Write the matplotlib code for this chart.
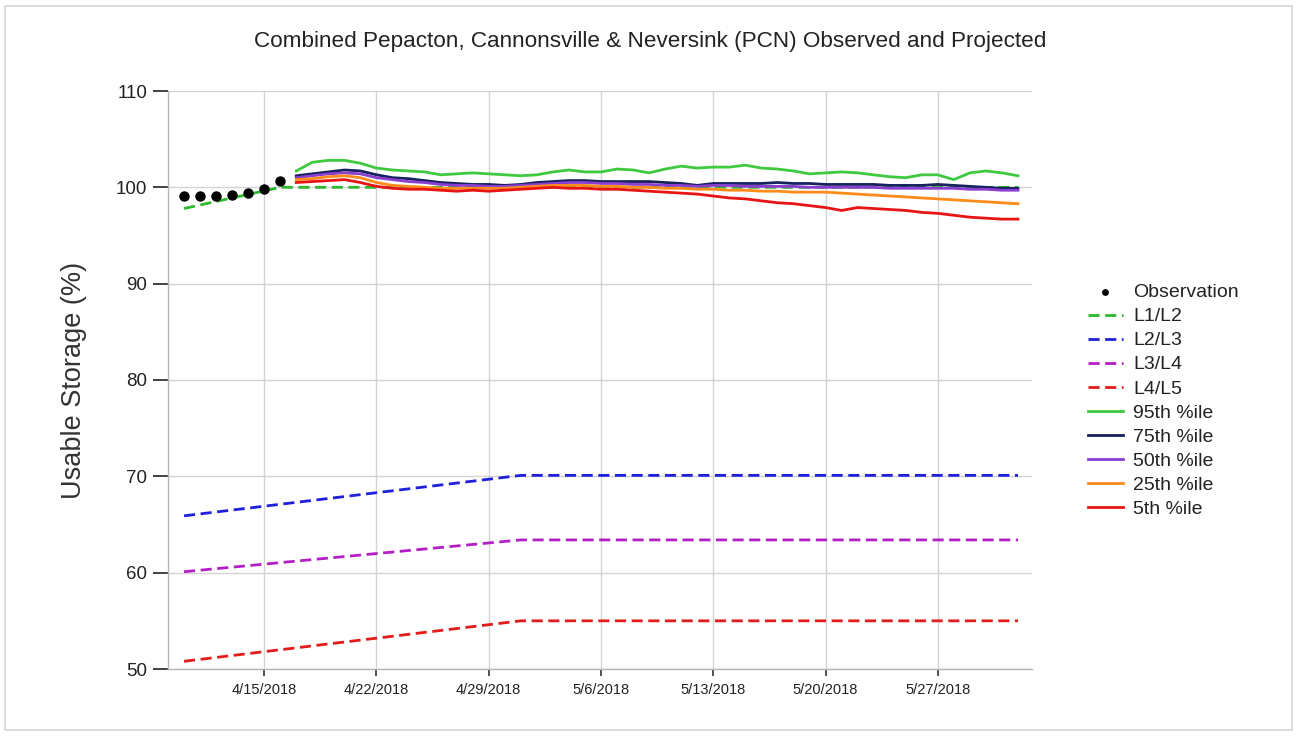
import matplotlib
matplotlib.use("Agg")
import matplotlib.pyplot as plt
import matplotlib.dates as mdates
from matplotlib.patches import Rectangle
import datetime as dt

plt.rcParams['font.family'] = ['Liberation Sans', 'DejaVu Sans']

# ---------------- data ----------------
title = "Combined Pepacton, Cannonsville & Neversink (PCN) Observed and Projected"
ylabel = "Usable Storage (%)"

obs_dates = ["2018-04-10", "2018-04-11", "2018-04-12", "2018-04-13",
             "2018-04-14", "2018-04-15", "2018-04-16"]
obs_values = [99.1, 99.1, 99.1, 99.2, 99.4, 99.8, 100.7]

l12_dates = ["2018-04-10", "2018-04-16", "2018-06-01"]
l12_values = [97.8, 100.0, 100.0]

rule_dates = ["2018-04-10", "2018-05-01", "2018-06-01"]
l23_values = [65.9, 70.1, 70.1]
l34_values = [60.1, 63.4, 63.4]
l45_values = [50.8, 55.0, 55.0]

proj_start = "2018-04-17"
proj_days = 46

p95 = [101.7, 102.6, 102.8, 102.8, 102.5, 102.0, 101.8, 101.7, 101.6, 101.3,
       101.4, 101.5, 101.4, 101.3, 101.2, 101.3, 101.6, 101.8, 101.6, 101.6,
       101.9, 101.8, 101.5, 101.9, 102.2, 102.0, 102.1, 102.1, 102.3, 102.0,
       101.9, 101.7, 101.4, 101.5, 101.6, 101.5, 101.3, 101.1, 101.0, 101.3,
       101.3, 100.8, 101.5, 101.7, 101.5, 101.2]
p75 = [101.2, 101.4, 101.6, 101.8, 101.7, 101.3, 101.0, 100.9, 100.7, 100.5,
       100.4, 100.3, 100.3, 100.2, 100.3, 100.5, 100.6, 100.7, 100.7, 100.6,
       100.6, 100.6, 100.6, 100.5, 100.4, 100.2, 100.4, 100.4, 100.4, 100.4,
       100.5, 100.4, 100.4, 100.3, 100.3, 100.3, 100.3, 100.2, 100.2, 100.2,
       100.3, 100.2, 100.1, 100.0, 99.9, 99.9]
p50 = [101.0, 101.2, 101.4, 101.5, 101.4, 101.0, 100.8, 100.6, 100.5, 100.3,
       100.2, 100.2, 100.1, 100.1, 100.2, 100.3, 100.4, 100.5, 100.5, 100.4,
       100.4, 100.3, 100.3, 100.2, 100.2, 100.1, 100.2, 100.2, 100.1, 100.1,
       100.1, 100.1, 100.0, 100.0, 100.0, 100.0, 100.0, 99.9, 99.9, 99.9,
       99.9, 99.9, 99.8, 99.8, 99.7, 99.7]
p25 = [100.8, 100.9, 101.1, 101.2, 101.0, 100.5, 100.2, 100.1, 100.0, 99.9,
       99.9, 99.9, 99.9, 99.9, 100.0, 100.1, 100.2, 100.2, 100.2, 100.1,
       100.1, 100.0, 100.0, 99.9, 99.9, 99.8, 99.8, 99.7, 99.7, 99.6,
       99.6, 99.5, 99.5, 99.5, 99.4, 99.3, 99.2, 99.1, 99.0, 98.9,
       98.8, 98.7, 98.6, 98.5, 98.4, 98.3]
p5 = [100.5, 100.6, 100.7, 100.8, 100.5, 100.1, 99.9, 99.8, 99.8, 99.7,
      99.6, 99.7, 99.6, 99.7, 99.8, 99.9, 100.0, 99.9, 99.9, 99.8,
      99.8, 99.7, 99.6, 99.5, 99.4, 99.3, 99.1, 98.9, 98.8, 98.6,
      98.4, 98.3, 98.1, 97.9, 97.6, 97.9, 97.8, 97.7, 97.6, 97.4,
      97.3, 97.1, 96.9, 96.8, 96.7, 96.7]

xtick_dates = ["2018-04-15", "2018-04-22", "2018-04-29", "2018-05-06",
               "2018-05-13", "2018-05-20", "2018-05-27"]
xtick_labels = ["4/15/2018", "4/22/2018", "4/29/2018", "5/6/2018",
                "5/13/2018", "5/20/2018", "5/27/2018"]
yticks = [50, 60, 70, 80, 90, 100, 110]

# ---------------- helpers ----------------
def D(s):
    return dt.datetime.strptime(s, "%Y-%m-%d")

start = D(proj_start)
proj_dates = [start + dt.timedelta(days=i) for i in range(proj_days)]

W, H = 1297, 736
fig = plt.figure(figsize=(W / 100, H / 100), dpi=100)
ax = fig.add_axes([168 / W, 1 - 669 / H, (1032 - 168) / W, (669 - 91) / H])

# border around figure
fig.patches.append(Rectangle((5 / W, 6 / H), (1292 - 5) / W, (730 - 6) / H,
                             transform=fig.transFigure, fill=False,
                             edgecolor="#d4d4d4", linewidth=1.2))

dash = (0, (4, 2))
lw = 2.0
ax.plot([D(d) for d in l12_dates], l12_values, color="#2db82d", ls=dash, lw=lw, label="L1/L2", zorder=3)
ax.plot([D(d) for d in rule_dates], l23_values, color="#1f1fdc", ls=dash, lw=lw, label="L2/L3", zorder=3)
ax.plot([D(d) for d in rule_dates], l34_values, color="#b31fc4", ls=dash, lw=lw, label="L3/L4", zorder=3)
ax.plot([D(d) for d in rule_dates], l45_values, color="#e31b1b", ls=dash, lw=lw, label="L4/L5", zorder=3)

ax.plot(proj_dates, p95, color="#3ec93e", lw=lw, label="95th %ile", zorder=4)
ax.plot(proj_dates, p75, color="#16215e", lw=lw, label="75th %ile", zorder=4)
ax.plot(proj_dates, p50, color="#8b3fd0", lw=lw, label="50th %ile", zorder=4)
ax.plot(proj_dates, p25, color="#ff8c1a", lw=lw, label="25th %ile", zorder=4)
ax.plot(proj_dates, p5, color="#e81414", lw=lw, label="5th %ile", zorder=4)

ax.scatter([D(d) for d in obs_dates], obs_values, s=42, color="black",
           zorder=5, label="Observation")

ax.set_xlim(D("2018-04-09"), D("2018-06-01") + dt.timedelta(hours=21))
ax.set_ylim(50, 110)
ax.set_yticks(yticks)
ax.set_xticks([mdates.date2num(D(d)) for d in xtick_dates])
ax.set_xticklabels(xtick_labels)

ax.grid(True, color="#d3d3d3", lw=1)
ax.set_axisbelow(True)
for s in ["top", "right"]:
    ax.spines[s].set_visible(False)
for s in ["left", "bottom"]:
    ax.spines[s].set_color("#b5b5b5")
    ax.spines[s].set_linewidth(1)

ax.tick_params(axis="y", direction="out", length=11, width=1.3, color="#333333",
               labelsize=13.5, labelcolor="#222222", pad=4)
ax.tick_params(axis="x", direction="out", length=5, width=1.2, color="#333333",
               labelsize=10.5, labelcolor="#222222", pad=5)

ax.set_ylabel(ylabel, fontsize=19.5, color="#333333", labelpad=21)

fig.text(650 / W, 1 - 41 / H, title, ha="center", va="center", fontsize=16.2,
         color="#222222")

handles, labels = ax.get_legend_handles_labels()
order = ["Observation", "L1/L2", "L2/L3", "L3/L4", "L4/L5",
         "95th %ile", "75th %ile", "50th %ile", "25th %ile", "5th %ile"]
hmap = dict(zip(labels, handles))
leg = fig.legend([hmap[l] for l in order], order, loc="upper left",
                 bbox_to_anchor=(1080 / W, 1 - 276 / H), frameon=False,
                 fontsize=14, handlelength=1.8, handletextpad=0.55,
                 labelspacing=0.33, markerscale=0.6, borderaxespad=0)
for t in leg.get_texts():
    t.set_color("#222222")

fig.savefig("out.png", dpi=100)
